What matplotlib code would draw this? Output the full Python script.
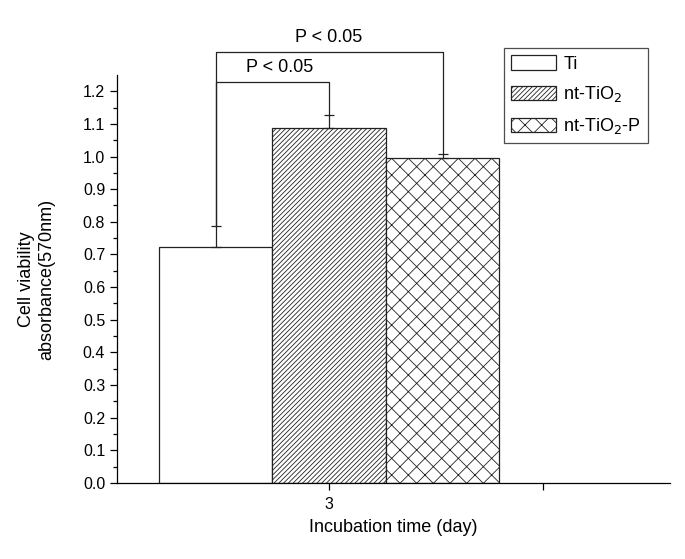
import matplotlib.pyplot as plt
import numpy as np

plt.rcParams['font.family'] = ['Liberation Sans', 'DejaVu Sans']

groups = ['Ti', 'nt-TiO$_2$', 'nt-TiO$_2$-P']
means = [0.722, 1.087, 0.995]
errs = [0.064, 0.039, 0.014]
hatches = ['', '///////', 'xx']
day = 3
width = 0.53

fig = plt.figure(figsize=(6.85, 5.59), dpi=100)
ax = fig.add_axes([0.1708, 0.136, 0.807, 0.730])

plt.rcParams['hatch.linewidth'] = 0.6
xs = day + (np.arange(len(means)) - 1) * width
for x, m, e, h, g in zip(xs, means, errs, hatches, groups):
    ax.bar(x, m, width=width, color='white', edgecolor='#222222', linewidth=0.9,
           hatch=h, label=g)
    ax.errorbar(x, m, yerr=[[0], [e]], color='#222222', capsize=3.5, elinewidth=0.9,
                capthick=0.9)

# significance brackets
tops = [m + e for m, e in zip(means, errs)]
def bracket(i, j, y, text, tx):
    ax.plot([xs[i], xs[i], xs[j], xs[j]], [tops[i], y, y, tops[j]],
            color='#222222', lw=0.9, clip_on=False)
    ax.text(tx, y + 0.02, text, ha='center', va='bottom', fontsize=13, clip_on=False)

bracket(0, 1, 1.227, 'P < 0.05', 2.77)
bracket(0, 2, 1.319, 'P < 0.05', 3.0)

ax.set_xlim(2.01, 4.59)
ax.set_ylim(0, 1.25)
ax.set_xticks([3, 4])
ax.set_xticklabels(['3', ''])
ax.set_yticks(np.arange(0, 1.21, 0.1))
ax.set_yticklabels([f'{v:.1f}' for v in np.arange(0, 1.21, 0.1)])
ax.set_yticks(np.arange(0.05, 1.25, 0.1), minor=True)
ax.tick_params(axis='both', direction='out', labelsize=11.5, width=0.9, length=5)
ax.tick_params(axis='x', pad=5)
ax.tick_params(axis='y', which='minor', direction='out', length=3, width=0.9)
for s in ['top', 'right']:
    ax.spines[s].set_visible(False)
for s in ['left', 'bottom']:
    ax.spines[s].set_linewidth(0.9)

ax.set_xlabel('Incubation time (day)', fontsize=13, labelpad=5)
ax.set_ylabel('Cell viability\nabsorbance(570nm)', fontsize=13, labelpad=20)

leg = ax.legend(loc='upper left', bbox_to_anchor=(0.6995, 1.066), fontsize=13,
                frameon=True, fancybox=False, edgecolor='#222222',
                handlelength=2.5, handleheight=0.85, borderpad=0.4, labelspacing=0.65,
                handletextpad=0.4, borderaxespad=0)
leg.get_frame().set_linewidth(0.9)

fig.savefig('out.png', dpi=100)
